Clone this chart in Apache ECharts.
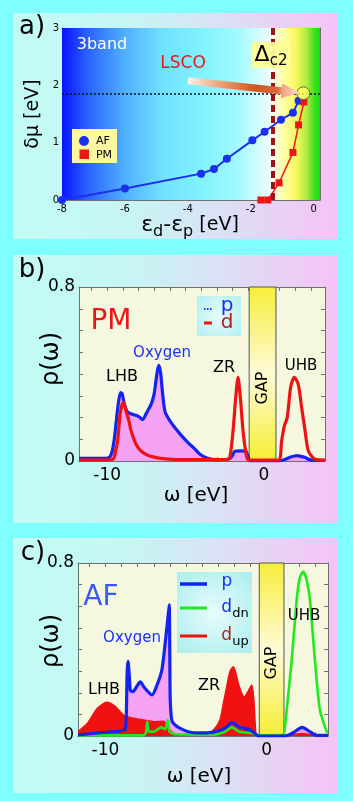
<!DOCTYPE html>
<html><head><meta charset="utf-8">
<script src="https://cdn.jsdelivr.net/npm/echarts@6/dist/echarts.min.js"></script>
<style>html,body{margin:0;padding:0;background:#80ffff;}#c{width:353px;height:801px;}</style>
</head><body><div id="c"></div>
<script>
// ---------- Panel a data ----------
const afX = [-8, -6, -3.58, -3.17, -2.76, -1.95, -1.56, -1.04, -0.66, -0.48];
const afY = [0, 0.20, 0.46, 0.54, 0.72, 1.04, 1.19, 1.40, 1.52, 1.73];
const pmX = [-1.68, -1.46, -1.10, -0.66, -0.48, -0.31];
const pmY = [0, 0, 0.30, 0.83, 1.31, 1.71];
const lscoPoint = [-0.33, 1.86];
const deltaC2X = -1.31;
const lscoLevel = 1.86;
const arrowTail = [-4.0, 2.08];
const arrowTip = [-0.45, 1.87];
const aXLabels = [-8, -6, -4, -2, 0];
const aXTicks = [-8, -7, -6, -5, -4, -3, -2, -1, 0];
const aYLabels = [0, 1, 2, 3];
const aYTicks = [0, 0.5, 1, 1.5, 2, 2.5, 3];

// ---------- Panel b (PM) data ----------
const bP = [[-11.8,0.012],[-10.5,0.012],[-9.9,0.015],[-9.7,0.04],[-9.55,0.1],[-9.44,0.17],[-9.3,0.26],[-9.15,0.315],[-9.05,0.31],[-8.9,0.26],[-8.7,0.225],[-8.4,0.215],[-8.0,0.205],[-7.74,0.19],[-7.5,0.22],[-7.2,0.26],[-7.0,0.31],[-6.85,0.39],[-6.72,0.44],[-6.6,0.41],[-6.45,0.3],[-6.3,0.225],[-6.0,0.185],[-5.7,0.155],[-5.3,0.12],[-4.85,0.085],[-4.4,0.055],[-4.1,0.032],[-3.6,0.012],[-3.0,0.006],[-2.3,0.008],[-2.05,0.02],[-1.85,0.045],[-1.5,0.047],[-1.15,0.045],[-1.0,0.02],[-0.9,0.0],[0.8,0],[1.3,0.006],[1.7,0.018],[2.1,0.025],[2.6,0.017],[3.0,0.004],[3.9,0.003]];
const bD = [[-11.8,0.004],[-10,0.004],[-9.6,0.01],[-9.45,0.05],[-9.34,0.09],[-9.17,0.217],[-9.05,0.26],[-8.96,0.27],[-8.8,0.23],[-8.6,0.18],[-8.48,0.14],[-8.16,0.077],[-7.84,0.046],[-7.4,0.026],[-6.99,0.018],[-6.3,0.01],[-5,0.006],[-2.4,0.006],[-2.18,0.015],[-1.97,0.138],[-1.8,0.29],[-1.65,0.385],[-1.5,0.29],[-1.33,0.138],[-1.11,0.023],[-0.95,0.004],[0.92,0.004],[1.13,0.092],[1.3,0.16],[1.49,0.2],[1.71,0.34],[1.94,0.385],[2.19,0.354],[2.41,0.246],[2.63,0.138],[2.84,0.046],[3.27,0.008],[3.9,0.004]];
const bGap = [-0.94, 0.77];
const bXLabels = [-10, 0];
const bXTicks = [-11, -10, -9, -8, -7, -6, -5, -4, -3, -2, -1, 0, 1, 2, 3];
const bYLabels = [0, 0.8];
const bYTicks = [0, 0.1, 0.2, 0.3, 0.4, 0.5, 0.6, 0.7, 0.8];

// ---------- Panel c (AF) data ----------
const cP = [[-11.7,0.005],[-10.3,0.015],[-9.07,0.023],[-8.8,0.03],[-8.72,0.06],[-8.65,0.3],[-8.6,0.345],[-8.52,0.28],[-8.45,0.21],[-8.3,0.205],[-8.05,0.23],[-7.84,0.25],[-7.6,0.225],[-7.42,0.21],[-7.11,0.19],[-6.8,0.236],[-6.5,0.305],[-6.25,0.46],[-6.08,0.58],[-6.04,0.607],[-5.99,0.2],[-5.95,0.12],[-5.85,0.066],[-5.36,0.035],[-4.54,0.015],[-3.7,0.014],[-2.9,0.025],[-2.47,0.043],[-2.17,0.062],[-1.65,0.04],[-1.03,0.028],[-0.7,0.01],[-0.5,0],[1.1,0],[1.4,0.006],[1.65,0.015],[2.2,0.04],[2.68,0.02],[3.1,0.003],[3.8,0.003]];
const cDup = [[-11.7,0.02],[-11.1,0.06],[-10.5,0.128],[-9.9,0.156],[-9.38,0.136],[-8.87,0.097],[-8.25,0.082],[-7.63,0.074],[-7.0,0.066],[-6.4,0.068],[-6.08,0.035],[-5.77,0.012],[-4.95,0.006],[-3.7,0.012],[-3.3,0.028],[-2.9,0.074],[-2.69,0.15],[-2.48,0.228],[-2.27,0.3],[-2.07,0.32],[-1.76,0.244],[-1.55,0.197],[-1.41,0.18],[-1.13,0.21],[-0.93,0.236],[-0.8,0.17],[-0.7,0.04],[-0.62,0.004],[1.1,0.004],[1.6,0.006],[2.2,0.012],[2.7,0.006],[3.8,0.003]];
const cDdn = [[-11.7,0.003],[-7.7,0.003],[-7.5,0.012],[-7.4,0.066],[-7.3,0.02],[-7.0,0.02],[-6.8,0.028],[-6.55,0.04],[-6.3,0.032],[-6.14,0.074],[-6.02,0.02],[-5.6,0.008],[-3.3,0.006],[-2.6,0.02],[-2.17,0.04],[-1.7,0.02],[-0.8,0.012],[-0.5,0.003],[1.0,0.005],[1.13,0.043],[1.28,0.15],[1.55,0.35],[1.86,0.63],[2.05,0.73],[2.27,0.76],[2.48,0.72],[2.68,0.63],[2.99,0.35],[3.3,0.12],[3.72,0.02],[3.8,0.015]];
const cGap = [-0.46, 1.07];
const cXLabels = [-10, 0];
const cXTicks = [-11, -10, -9, -8, -7, -6, -5, -4, -3, -2, -1, 0, 1, 2, 3];
const cYLabels = [0, 0.8];
const cYTicks = [0, 0.1, 0.2, 0.3, 0.4, 0.5, 0.6, 0.7, 0.8];

// ---------- rendering ----------
const FONT = 'DejaVu Sans';
const chart = echarts.init(document.getElementById('c'), null, {renderer: 'canvas', width: 353, height: 801});
function lg(x1, y1, x2, y2, stops, global) {
  return new echarts.graphic.LinearGradient(x1, y1, x2, y2, stops.map(s => ({offset: s[0], color: s[1]})), !!global);
}
function rg(stops) {
  return new echarts.graphic.RadialGradient(0.5, 0.5, 0.7, stops.map(s => ({offset: s[0], color: s[1]})));
}
const AXC = '#707070';
const grids = [
  {left: 62, top: 28, width: 258, height: 172, show: true, borderWidth: 0, backgroundColor: '#ffffff'},
  {left: 79, top: 287, width: 246, height: 174, show: true, borderWidth: 0, backgroundColor: '#f5f8df'},
  {left: 78, top: 563, width: 250, height: 173, show: true, borderWidth: 0, backgroundColor: '#f5f8df'}
];
const xAxes = [], yAxes = [];
function addAxes(gi, o) {
  const base = {type: 'value', gridIndex: gi, splitLine: {show: false},
    axisLine: {show: true, onZero: false, lineStyle: {color: AXC, width: 1}}};
  xAxes.push(Object.assign({}, base, {min: o.xmin, max: o.xmax, position: 'bottom',
    axisTick: {show: true, inside: true, length: o.tl, customValues: o.xTicks, lineStyle: {color: AXC}},
    axisLabel: {show: true, customValues: o.xLabels, fontSize: o.fs, color: '#000', fontFamily: FONT, margin: o.xm}}));
  xAxes.push(Object.assign({}, base, {min: o.xmin, max: o.xmax, position: 'top',
    axisTick: {show: true, inside: true, length: o.tl, customValues: o.xTicks, lineStyle: {color: AXC}},
    axisLabel: {show: false}}));
  yAxes.push(Object.assign({}, base, {min: o.ymin, max: o.ymax, position: 'left',
    axisTick: {show: true, inside: true, length: o.tl, customValues: o.yTicks, lineStyle: {color: AXC}},
    axisLabel: {show: true, customValues: o.yLabels, fontSize: o.fs, color: '#000', fontFamily: FONT, margin: o.ym}}));
  yAxes.push(Object.assign({}, base, {min: o.ymin, max: o.ymax, position: 'right',
    axisTick: {show: true, inside: true, length: o.tl, customValues: o.yTicks, lineStyle: {color: AXC}},
    axisLabel: {show: false}}));
}
addAxes(0, {xmin: -8, xmax: 0.2, ymin: 0, ymax: 3, tl: 4, fs: 10, xm: 4, ym: 3,
  xTicks: aXTicks, xLabels: aXLabels, yTicks: aYTicks, yLabels: aYLabels});
addAxes(1, {xmin: -11.8, xmax: 3.9, ymin: 0, ymax: 0.8, tl: 4, fs: 17, xm: 6, ym: 4,
  xTicks: bXTicks, xLabels: bXLabels, yTicks: bYTicks, yLabels: bYLabels});
addAxes(2, {xmin: -11.7, xmax: 3.8, ymin: 0, ymax: 0.8, tl: 4, fs: 17, xm: 6, ym: 4,
  xTicks: cXTicks, xLabels: cXLabels, yTicks: cYTicks, yLabels: cYLabels});

const zip = (xs, ys) => xs.map((x, i) => [x, ys[i]]);
const gapStyle = {color: lg(0, 0, 0, 1, [[0, '#f6ee3a'], [0.5, '#fffbd6'], [1, '#f6ee30']]), borderColor: '#555', borderWidth: 1, opacity: 1};
const SM = 0.25;
const series = [
  // panel a background zones
  {type: 'line', xAxisIndex: 0, yAxisIndex: 0, data: [[-8, 0]], showSymbol: false, lineStyle: {opacity: 0}, z: 1, silent: true,
    markArea: {silent: true, data: [
      [{xAxis: -8, yAxis: 0, itemStyle: {color: lg(0, 0, 1, 0, [[0, '#0a12ff'], [0.12, '#2a62ff'], [0.3, '#50b0ff'], [0.47, '#70e0ff'], [0.66, '#80f2ff'], [0.84, '#a2faff'], [1, '#f4ffff']])}}, {xAxis: deltaC2X, yAxis: 3}],
      [{xAxis: deltaC2X, yAxis: 0, itemStyle: {color: lg(0, 0, 1, 0, [[0, '#fffff0'], [0.25, '#ffffa0'], [0.5, '#f6f860'], [0.72, '#b0ec40'], [0.88, '#40e020'], [1, '#10e010']])}}, {xAxis: 0.2, yAxis: 3}]
    ]}},
  {type: 'line', xAxisIndex: 0, yAxisIndex: 0, data: [[-8, 0]], showSymbol: false, lineStyle: {opacity: 0}, z: 2, silent: true,
    markLine: {silent: true, symbol: 'none', label: {show: false}, data: [
      {xAxis: deltaC2X, lineStyle: {type: [7, 4], color: '#9a1616', width: 4}},
      {yAxis: lscoLevel, lineStyle: {type: [2, 2], color: '#111', width: 1.5}}
    ]}},
  {name: 'AF', type: 'line', xAxisIndex: 0, yAxisIndex: 0, data: zip(afX, afY), symbol: 'circle', symbolSize: 8,
    itemStyle: {color: '#1a30ee'}, lineStyle: {color: '#1a30ee', width: 2}, z: 4, clip: false},
  {name: 'PM', type: 'line', xAxisIndex: 0, yAxisIndex: 0, data: zip(pmX, pmY), symbol: 'rect', symbolSize: 7,
    itemStyle: {color: '#ee1515'}, lineStyle: {color: '#ee1515', width: 1.5}, z: 4},
  {type: 'scatter', xAxisIndex: 0, yAxisIndex: 0, data: [lscoPoint], symbolSize: 13,
    itemStyle: {color: '#ffff66', borderColor: '#444', borderWidth: 1}, z: 6},
  // panel b
  {type: 'line', xAxisIndex: 2, yAxisIndex: 2, data: bP, smooth: SM, showSymbol: false, lineStyle: {width: 0}, areaStyle: {color: '#f6a2f4', opacity: 1}, z: 2},
  {type: 'line', xAxisIndex: 2, yAxisIndex: 2, data: bP, smooth: SM, showSymbol: false, lineStyle: {color: '#1224ee', width: 3.2}, z: 3},
  {type: 'line', xAxisIndex: 2, yAxisIndex: 2, data: bD, smooth: SM, showSymbol: false, lineStyle: {color: '#ee1212', width: 3.2}, z: 3},
  {type: 'line', xAxisIndex: 2, yAxisIndex: 2, data: [[bGap[0], 0]], showSymbol: false, lineStyle: {opacity: 0}, z: 5,
    markArea: {silent: true, itemStyle: gapStyle, data: [[{xAxis: bGap[0], yAxis: 0}, {xAxis: bGap[1], yAxis: 0.8}]]}},
  // panel c
  {type: 'line', xAxisIndex: 4, yAxisIndex: 4, data: cP, smooth: SM, showSymbol: false, lineStyle: {width: 0}, areaStyle: {color: '#f6a2f4', opacity: 1}, z: 2},
  {type: 'line', xAxisIndex: 4, yAxisIndex: 4, data: cDup, smooth: SM, showSymbol: false, lineStyle: {color: '#f01212', width: 1.5}, areaStyle: {color: '#f01212', opacity: 1}, z: 3},
  {type: 'line', xAxisIndex: 4, yAxisIndex: 4, data: cDdn, smooth: SM, showSymbol: false, lineStyle: {color: '#22e822', width: 2.6}, z: 4},
  {type: 'line', xAxisIndex: 4, yAxisIndex: 4, data: cP, smooth: SM, showSymbol: false, lineStyle: {color: '#1224ee', width: 3.2}, z: 5},
  {type: 'line', xAxisIndex: 4, yAxisIndex: 4, data: [[cGap[0], 0]], showSymbol: false, lineStyle: {opacity: 0}, z: 6,
    markArea: {silent: true, itemStyle: gapStyle, data: [[{xAxis: cGap[0], yAxis: 0}, {xAxis: cGap[1], yAxis: 0.8}]]}}
];

chart.setOption({
  backgroundColor: '#80ffff',
  animation: false,
  grid: grids,
  xAxis: xAxes,
  yAxis: yAxes,
  series: series
});

// ---------- annotations ----------
const cardFill = lg(0, 0, 1, 0, [[0, '#c2fcf5'], [0.35, '#c6f6f4'], [0.6, '#d8e4f4'], [1, '#f6c2f6']]);
function card(y, h) { return {type: 'rect', shape: {x: 13, y: y, width: 325, height: h}, style: {fill: cardFill}, z: -100, silent: true}; }
function txt(x, y, text, size, color, extra) {
  return Object.assign({type: 'text', x: x, y: y, z: 100, silent: true,
    style: {text: text, fontSize: size, fill: color, fontFamily: FONT, align: 'center', verticalAlign: 'middle'}}, extra || {});
}
function rtxt(x, y, text, rich, extra) {
  return Object.assign({type: 'text', x: x, y: y, z: 100, silent: true,
    style: Object.assign({text: text, rich: rich, fontFamily: FONT, align: 'center', verticalAlign: 'middle'}, extra || {})});
}
// arrow from data coords
const p0 = chart.convertToPixel({gridIndex: 0}, arrowTail);
const p1 = chart.convertToPixel({gridIndex: 0}, arrowTip);
const dx = p1[0] - p0[0], dy = p1[1] - p0[1], L = Math.hypot(dx, dy);
const ux = dx / L, uy = dy / L, nx = -uy, ny = ux;
const neck = 0.84, tw = 3.6, hw = 7.5;
const nk = [p0[0] + dx * neck, p0[1] + dy * neck];
const arrowPts = [
  [p0[0] + nx * tw, p0[1] + ny * tw], [nk[0] + nx * tw, nk[1] + ny * tw], [nk[0] + nx * hw, nk[1] + ny * hw],
  [p1[0], p1[1]],
  [nk[0] - nx * hw, nk[1] - ny * hw], [nk[0] - nx * tw, nk[1] - ny * tw], [p0[0] - nx * tw, p0[1] - ny * tw]
];
const arrowFill = lg(p0[0], p0[1], p1[0], p1[1], [[0, '#fff2ea'], [0.3, '#eca070'], [0.6, '#d4541e'], [0.8, '#d86a40'], [0.86, '#f2aa90'], [1, '#fcd6c8']], true);

const richD = (c) => ({d: {fontSize: 17, fill: c, color: c, fontFamily: FONT}, s: {fontSize: 13, color: c, fontFamily: FONT, padding: [12, 0, 0, 0]}});
const ROT = Math.PI / 2;
const graphics = [
  card(13, 226), card(255, 268), card(538, 255),
  // panel labels
  txt(32, 27, 'a)', 26, '#000'), txt(32, 270, 'b)', 26, '#000'), txt(33, 553, 'c)', 26, '#000'),
  // axis titles
  txt(33, 114, 'δμ [eV]', 19, '#000', {rotation: ROT}),
  rtxt(190, 225, '{e|ε}{s|d}{e|-ε}{s|p}{u| [eV]}', {e: {fontSize: 22, fontFamily: FONT, color: '#000'}, s: {fontSize: 16, fontFamily: FONT, color: '#000', padding: [14, 0, 0, 0]}, u: {fontSize: 19, fontFamily: FONT, color: '#000'}}),
  txt(52, 359, 'ρ(ω)', 24, '#000', {rotation: ROT}),
  txt(196, 496, 'ω [eV]', 20, '#000'),
  txt(52, 641, 'ρ(ω)', 24, '#000', {rotation: ROT}),
  txt(199, 777, 'ω [eV]', 20, '#000'),
  // panel a
  txt(102, 45, '3band', 16, '#ffffff'),
  txt(183, 64, 'LSCO', 17, '#e81818'),
  {type: 'rect', shape: {x: 252, y: 42, width: 38, height: 26}, style: {fill: 'rgba(255,255,150,0.92)'}, z: 99, silent: true},
  rtxt(271, 55, '{a|Δ}{b|c2}', {a: {fontSize: 22, color: '#000', fontFamily: FONT}, b: {fontSize: 15, color: '#000', fontFamily: FONT, padding: [12, 0, 0, 0]}}),
  {type: 'polygon', shape: {points: arrowPts}, style: {fill: arrowFill}, z: 90, silent: true},
  {type: 'rect', shape: {x: 72, y: 129, width: 45, height: 34}, style: {fill: '#fff8a0'}, z: 99, silent: true},
  {type: 'circle', shape: {cx: 84, cy: 141, r: 5}, style: {fill: '#1a30ee'}, z: 100, silent: true},
  {type: 'rect', shape: {x: 79.5, y: 149.5, width: 9.5, height: 9.5}, style: {fill: '#ee1515'}, z: 100, silent: true},
  txt(103, 141, 'AF', 11, '#000'), txt(104, 155, 'PM', 11, '#000'),
  // panel b
  txt(111, 322, 'PM', 28, '#ee1515'),
  txt(122, 377, 'LHB', 16, '#000'),
  txt(162, 353, 'Oxygen', 15, '#1a30ee'),
  txt(224, 368, 'ZR', 16, '#000'),
  txt(301, 366, 'UHB', 15, '#000'),
  txt(263, 388, 'GAP', 16, '#000', {rotation: ROT}),
  {type: 'rect', shape: {x: 197, y: 296, width: 44, height: 40}, style: {fill: rg([[0, '#e6fcfc'], [1, '#b6f0f0']])}, z: 99, silent: true},
  {type: 'line', shape: {x1: 204, y1: 309, x2: 212, y2: 309}, style: {stroke: '#1a30ee', lineWidth: 2, lineDash: [1.5, 1.5]}, z: 100, silent: true},
  {type: 'line', shape: {x1: 204, y1: 323, x2: 212, y2: 323}, style: {stroke: '#ee1515', lineWidth: 3}, z: 100, silent: true},
  txt(227, 306, 'p', 20, '#1a30ee'), txt(227, 323, 'd', 20, '#a82222'),
  // panel c
  txt(101, 598, 'AF', 28, '#3a58f2'),
  txt(132, 638, 'Oxygen', 15, '#1a30ee'),
  txt(104, 690, 'LHB', 16, '#000'),
  txt(209, 686, 'ZR', 16, '#000'),
  txt(304, 616, 'UHB', 15, '#000'),
  txt(272, 663, 'GAP', 16, '#000', {rotation: ROT}),
  {type: 'rect', shape: {x: 177, y: 572, width: 75, height: 81}, style: {fill: rg([[0, '#e8fcfc'], [1, '#aeeeee']])}, z: 99, silent: true},
  {type: 'line', shape: {x1: 180, y1: 584, x2: 207, y2: 584}, style: {stroke: '#1224ee', lineWidth: 3.5}, z: 100, silent: true},
  {type: 'line', shape: {x1: 180, y1: 608, x2: 207, y2: 608}, style: {stroke: '#22e822', lineWidth: 3}, z: 100, silent: true},
  {type: 'line', shape: {x1: 180, y1: 636, x2: 207, y2: 636}, style: {stroke: '#f01212', lineWidth: 3}, z: 100, silent: true},
  txt(227, 582, 'p', 17, '#1a30ee'),
  rtxt(235, 608, '{d|d}{s|dn}', richD('#1a30ee')),
  rtxt(235, 636, '{d|d}{s|up}', richD('#a82222'))
];
chart.setOption({graphic: graphics});
</script>
</body></html>
